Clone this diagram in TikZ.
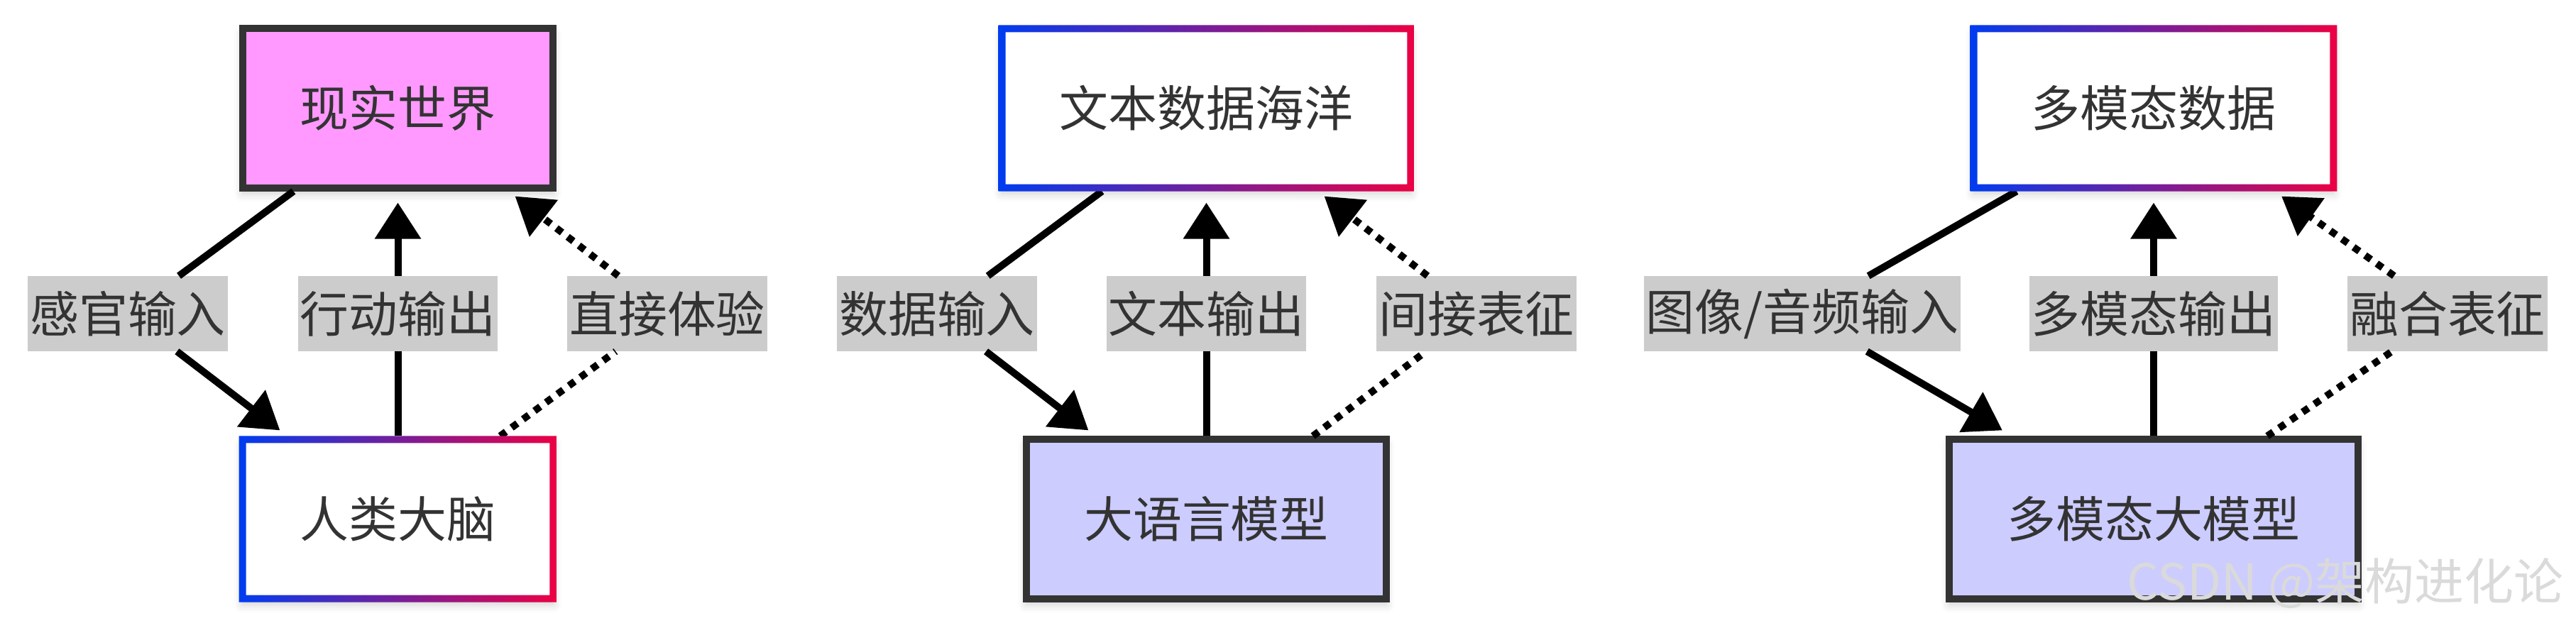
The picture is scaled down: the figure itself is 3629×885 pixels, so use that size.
\documentclass[tikz,border=0pt]{standalone}
\usepackage{fontspec}
\setmainfont{Noto Sans CJK SC}
\usepackage{xcolor}
\usepackage{tikz}
\usetikzlibrary{arrows.meta,calc,shadows.blur}

\definecolor{boxline}{HTML}{333333}
\definecolor{pinkfill}{HTML}{FF99FF}
\definecolor{lilacfill}{HTML}{CCCCFF}
\definecolor{labelfill}{HTML}{CCCCCC}
\definecolor{gradblue}{RGB}{0,60,240}
\definecolor{gradred}{RGB}{236,0,68}
\definecolor{marktext}{HTML}{DADADA}

\begin{document}
\begin{tikzpicture}[
    x=0.01cm, y=-0.01cm,
    every node/.style={font=\fontsize{19.6pt}{24pt}\selectfont, text=boxline},
    box/.style={rectangle, line width=1mm, minimum height=2.24cm, inner xsep=0.81cm,
        blur shadow={shadow xshift=0cm, shadow yshift=-0.08cm,
                     shadow blur radius=0.12cm, shadow opacity=20}},
    solidbox/.style={box, draw=boxline},
    gradbox/.style={box, fill=white},
    edgelabel/.style={fill=labelfill, inner xsep=0.03cm, inner ysep=0pt, minimum height=1.05cm},
    flow/.style={line width=1mm, -{Triangle[length=0.51cm, width=0.63cm]}},
    indirect/.style={flow, dash pattern=on 1mm off 1mm}
]

\useasboundingbox (0,0) rectangle (3629,885);

% -------------------------------------------------
% Human: world <-> brain
% -------------------------------------------------

\node[solidbox, fill=pinkfill] (world) at (560.5,152.5) {现实世界};
\node[gradbox] (brain) at (560.5,731.5) {人类大脑};

\node[edgelabel] (senseLbl)  at (180,442)   {感官输入};
\node[edgelabel] (actLbl)    at (560.5,442) {行动输出};
\node[edgelabel] (directLbl) at (940,442)   {直接体验};

\draw[flow] ([xshift=-1.47cm]world.south) -- (senseLbl)
    -- ([xshift=-1.66cm,yshift=0.08cm]brain.north);
\draw[flow] (brain.north) -- (actLbl) -- ([yshift=-0.16cm]world.south);
\draw[indirect] ([xshift=1.44cm]brain.north) -- (directLbl)
    -- ([xshift=1.65cm,yshift=-0.07cm]world.south);

% -------------------------------------------------
% LLM: text ocean <-> language model
% -------------------------------------------------

\node[gradbox] (ocean) at (1699.5,152.5) {文本数据海洋};
\node[solidbox, fill=lilacfill] (llm) at (1699.5,731.5) {大语言模型};

\node[edgelabel] (dataLbl)     at (1320,442)   {数据输入};
\node[edgelabel] (textLbl)     at (1699.5,442) {文本输出};
\node[edgelabel] (indirectLbl) at (2080,442)   {间接表征};

\draw[flow] ([xshift=-1.47cm]ocean.south) -- (dataLbl)
    -- ([xshift=-1.66cm,yshift=0.08cm]llm.north);
\draw[flow] (llm.north) -- (textLbl) -- ([yshift=-0.16cm]ocean.south);
\draw[indirect] ([xshift=1.50cm]llm.north) -- (indirectLbl)
    -- ([xshift=1.66cm,yshift=-0.07cm]ocean.south);

% -------------------------------------------------
% Multimodal: data <-> multimodal model
% -------------------------------------------------

\node[gradbox] (mmdata) at (3034,152.5) {多模态数据};
\node[solidbox, fill=lilacfill] (mmllm) at (3034,731.5) {多模态大模型};

\node[edgelabel] (mediaLbl) at (2539,442) {图像/音频输入};
\node[edgelabel] (mmoutLbl) at (3034,442) {多模态输出};
\node[edgelabel] (fuseLbl)  at (3448,442) {融合表征};

\draw[flow] ([xshift=-1.93cm]mmdata.south) -- (mediaLbl)
    -- ([xshift=-2.13cm,yshift=0.08cm]mmllm.north);
\draw[flow] (mmllm.north) -- (mmoutLbl) -- ([yshift=-0.16cm]mmdata.south);
\draw[indirect] ([xshift=1.60cm]mmllm.north) -- (fuseLbl)
    -- ([xshift=1.80cm,yshift=-0.07cm]mmdata.south);

% -------------------------------------------------
% Gradient frames
% -------------------------------------------------

\foreach \b in {brain,ocean,mmdata}{
    \shade[left color=gradblue, right color=gradred, even odd rule]
      (\b.north west) rectangle (\b.south east)
      ([xshift=0.1cm,yshift=-0.1cm]\b.north west)
      rectangle ([xshift=-0.1cm,yshift=0.1cm]\b.south east);
}

% -------------------------------------------------
% Watermark
% -------------------------------------------------

\node[anchor=east, text=marktext, font=\fontsize{19.9pt}{24pt}\selectfont]
  (mark) at (3624,822) {CSDN @架构进化论};

\end{tikzpicture}
\end{document}
